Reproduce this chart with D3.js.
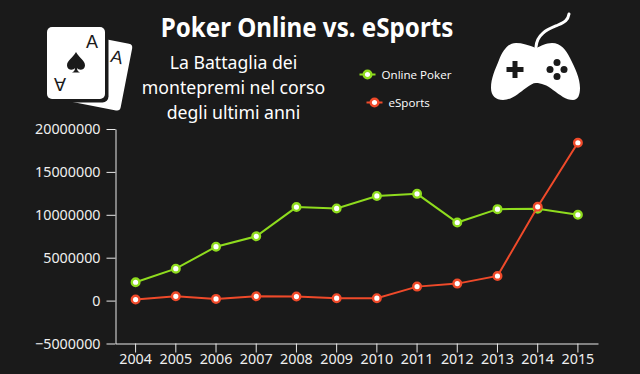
<!DOCTYPE html>
<html>
<head>
<meta charset="utf-8">
<script src="https://cdn.jsdelivr.net/npm/d3@7"></script>
<style>
  html, body { margin: 0; padding: 0; background: #1a1a1a; }
  svg { display: block; }
  .tick text { font-family: "Noto Sans", sans-serif; font-size: 14.3px; fill: #efefef; }
  .tick line { stroke: #e8e8e8; }
  .domain { stroke: #e8e8e8; fill: none; }
</style>
</head>
<body>
<div id="chart"></div>
<script>
/* DATA */
const years = ["2004","2005","2006","2007","2008","2009","2010","2011","2012","2013","2014","2015"];
const onlinePoker = [2140000,3720000,6280000,7490000,10900000,10740000,12200000,12440000,9100000,10660000,10700000,10000000];
const eSports = [120000,500000,200000,500000,470000,280000,280000,1630000,1980000,2870000,10930000,18400000];
const yTicks = [-5000000,0,5000000,10000000,15000000,20000000];
const subtitleLines = ["La Battaglia dei","montepremi nel corso","degli ultimi anni"];

const width = 640, height = 374,
  margin = { top: 129, bottom: 30.5, left: 115.5, right: 42 };

const svg = d3.select("#chart").append("svg")
  .attr("width", width)
  .attr("height", height);

svg.append("rect").attr("width", width).attr("height", height).attr("fill", "#1a1a1a");

/* SCALES */
const xScale = d3.scaleBand()
  .domain(years)
  .range([margin.left, width - margin.right]);

const yScale = d3.scaleLinear()
  .domain([-5000000, 20000000])
  .range([height - margin.bottom, margin.top]);

/* AXES */
svg.append("g")
  .attr("class", "xAxis")
  .attr("transform", `translate(0, ${height - margin.bottom})`)
  .call(d3.axisBottom(xScale).tickSize(9).tickSizeOuter(0).tickPadding(1));

svg.append("g")
  .attr("class", "yAxis")
  .attr("transform", `translate(${margin.left}, 0)`)
  .call(d3.axisLeft(yScale).tickValues(yTicks).tickFormat(d3.format("d")).tickSize(9).tickSizeOuter(0).tickPadding(6));

/* LINES */
const x = (d, i) => xScale(years[i]) + xScale.bandwidth() / 2;
const lineGen = d3.line().x(x).y(d => yScale(d));

const series = [
  { name: "Online Poker", values: onlinePoker, color: "#8fdc1e" },
  { name: "eSports", values: eSports, color: "#ef4a2a" }
];

series.forEach(s => {
  svg.append("path")
    .attr("fill", "none")
    .attr("stroke", s.color)
    .attr("stroke-width", 2)
    .attr("d", lineGen(s.values));
  svg.selectAll(null)
    .data(s.values)
    .join("circle")
    .attr("cx", x)
    .attr("cy", d => yScale(d))
    .attr("r", 3.8)
    .attr("fill", "#fff")
    .attr("stroke", s.color)
    .attr("stroke-width", 2.4);
});

/* TITLES */
// no condensed font installed, so squeeze the glyphs sideways
svg.append("text")
  .attr("transform", "translate(307, 37) scale(0.895, 1)")
  .attr("text-anchor", "middle")
  .attr("font-family", "'Noto Sans', sans-serif")
  .attr("font-weight", "bold")
  .attr("font-size", 27)
  .attr("fill", "#fff")
  .text("Poker Online vs. eSports");

svg.selectAll(".sub")
  .data(subtitleLines)
  .join("text")
  .attr("class", "sub")
  .attr("transform", (d, i) => `translate(233.5, ${68.5 + i * 25}) scale(0.93, 1)`)
  .attr("text-anchor", "middle")
  .attr("font-family", "'Noto Sans', sans-serif")
  .attr("font-size", 19)
  .attr("fill", "#fff")
  .text(d => d);

/* LEGEND */
const legend = svg.selectAll(".legend")
  .data([{ s: series[0], x: 367.5, y: 74.5 }, { s: series[1], x: 374.5, y: 102.5 }])
  .join("g")
  .attr("class", "legend")
  .attr("transform", d => `translate(${d.x}, ${d.y})`);

legend.append("line")
  .attr("x1", -8).attr("x2", 8)
  .attr("stroke", d => d.s.color).attr("stroke-width", 2);
legend.append("circle")
  .attr("r", 3.8).attr("fill", "#fff")
  .attr("stroke", d => d.s.color).attr("stroke-width", 2.4);
legend.append("text")
  .attr("x", 14).attr("y", 4.5)
  .attr("font-family", "'Open Sans', sans-serif")
  .attr("font-size", 11.6)
  .attr("fill", "#fff")
  .text(d => d.s.name);

/* ICONS */
const cards = svg.append("g").attr("fill", "#fff");
cards.append("rect")
  .attr("width", 60).attr("height", 68).attr("rx", 4)
  .attr("transform", "translate(74, 33) rotate(11)");
cards.append("rect")
  .attr("x", 44).attr("y", 24).attr("width", 64.5).attr("height", 78.5).attr("rx", 6)
  .attr("fill", "#1a1a1a");
cards.append("rect")
  .attr("x", 47).attr("y", 27).attr("width", 58).attr("height", 72).attr("rx", 5);
cards.append("path")
  .attr("fill", "#1a1a1a")
  .attr("d", "M76 52 C73 58 67 60 67 65.5 C67 70 73 71 75 68 C75 70 74 71.5 72 72.5 L80 72.5 C78 71.5 77 70 77 68 C79 71 85 70 85 65.5 C85 60 79 58 76 52 Z");
[["A", 92, 48, 0], ["A", 60, 78, 180], ["A", 115.5, 63, 12]].forEach(a => {
  cards.append("text")
    .attr("transform", `translate(${a[1]}, ${a[2]}) rotate(${a[3]})`)
    .attr("text-anchor", "middle")
    .attr("font-family", "'Liberation Sans', sans-serif")
    .attr("font-size", 18)
    .attr("fill", "#1a1a1a")
    .text(a[0]);
});

const pad = svg.append("g");
pad.append("path")
  .attr("fill", "#fff")
  .attr("d", "M536 48 C529 45 522 43 516 43 C508 43 503 50 499 60 C495 70 491 78 491 88 C491 96 496 100 503 100 C512 100 519 93 526 88 C530 85 533 83 536 83 C541 83 547 85 553 90 C560 95 566 100 573 100 C578 100 580 95 580 88 C580 78 575 68 570 58 C566 50 561 43 552 43 C546 43 541 46 536 48 Z");
pad.append("path")
  .attr("fill", "none").attr("stroke", "#fff").attr("stroke-width", 3)
  .attr("stroke-linecap", "round")
  .attr("d", "M536 47 C537 33 549 29 558 25 C565 22 568 20 569 14");
pad.append("path")
  .attr("fill", "#1a1a1a")
  .attr("d", "M512.5 61 h5 v6 h6 v5 h-6 v6 h-5 v-6 h-6 v-5 h6 z");
pad.selectAll(null)
  .data([[557, 62.5], [550, 69.5], [564, 69.5], [557, 76.5]])
  .join("circle")
  .attr("cx", d => d[0]).attr("cy", d => d[1]).attr("r", 3.5)
  .attr("fill", "#1a1a1a");
</script>
</body>
</html>
